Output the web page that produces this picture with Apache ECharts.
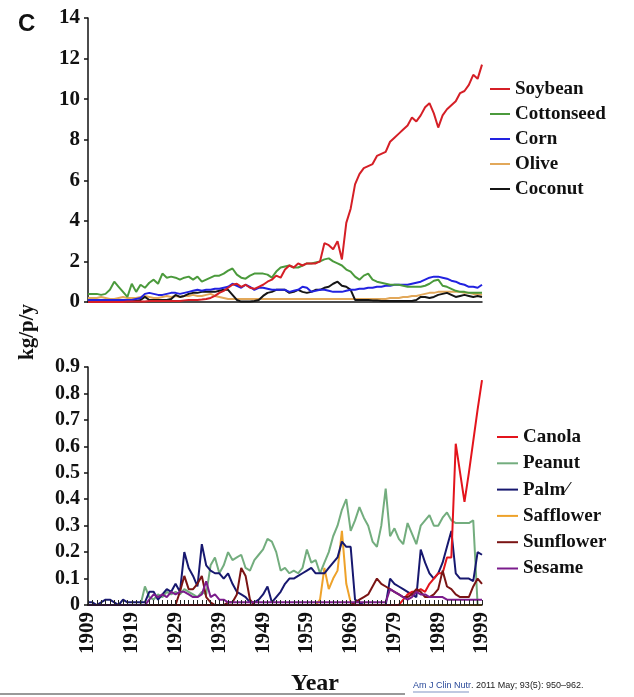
<!DOCTYPE html>
<html>
<head>
<meta charset="utf-8">
<script src="https://cdn.jsdelivr.net/npm/echarts@6/dist/echarts.min.js"></script>
<style>
  html, body { margin: 0; padding: 0; background: #fff; }
  #chart { width: 634px; height: 697px; }
</style>
</head>
<body>
<div id="chart"></div>
<script>
// years 1909..1999, one point per year
const years = [];
for (let y = 1909; y <= 1999; y++) years.push(String(y));
const yearLabels = ['1909', '1919', '1929', '1939', '1949', '1959', '1969', '1979', '1989', '1999'];

// top panel, kg/p/y
const soybean = [
  0, 0, 0, 0, 0, 0, 0, 0, 0, 0.02,
  0.02, 0.02, 0.03, 0.03, 0.05, 0.05, 0.05, 0.05, 0.05, 0.05,
  0.05, 0.05, 0.08, 0.1, 0.1, 0.1, 0.12, 0.15, 0.2, 0.3,
  0.45, 0.55, 0.7, 0.85, 0.9, 0.75, 0.85, 0.7, 0.65, 0.75,
  0.85, 1.0, 1.1, 1.3, 1.2, 1.6, 1.8, 1.7, 1.9, 1.8,
  1.9, 1.9, 1.9, 2.0, 2.9, 2.8, 2.6, 3.0, 2.1, 3.9,
  4.6, 5.8, 6.3, 6.6, 6.7, 6.8, 7.2, 7.3, 7.4, 7.9,
  8.1, 8.3, 8.5, 8.7, 9.1, 8.9, 9.2, 9.6, 9.8, 9.3,
  8.6, 9.2, 9.5, 9.7, 9.9, 10.3, 10.4, 10.7, 11.2, 11.0,
  11.7
];
const cottonseed = [
  0.4, 0.4, 0.4, 0.35, 0.4, 0.6, 1.0, 0.75, 0.5, 0.25,
  0.9, 0.5, 0.85, 0.7, 0.95, 1.1, 0.9, 1.4, 1.2, 1.25,
  1.2, 1.1, 1.2, 1.25, 1.1, 1.25, 1.0, 1.1, 1.2, 1.3,
  1.3, 1.4, 1.55, 1.65, 1.35, 1.2, 1.15, 1.3, 1.4, 1.4,
  1.4, 1.35, 1.2, 1.5, 1.7, 1.75, 1.8, 1.7, 1.7, 1.8,
  1.9, 1.9, 1.95, 2.0, 2.1, 2.15, 2.0, 1.9, 1.8, 1.6,
  1.5, 1.25, 1.1, 1.3, 1.4, 1.1, 1.0, 0.95, 0.9, 0.85,
  0.85, 0.85, 0.8, 0.75, 0.75, 0.75, 0.75, 0.8, 0.9, 1.05,
  1.1, 0.8, 0.75, 0.65, 0.55, 0.5, 0.5, 0.45, 0.45, 0.45,
  0.45
];
const corn = [
  0.1, 0.1, 0.1, 0.1, 0.1, 0.1, 0.1, 0.1, 0.1, 0.1,
  0.1, 0.15, 0.2, 0.4, 0.45, 0.4, 0.35, 0.35, 0.4, 0.45,
  0.45, 0.4, 0.45, 0.5, 0.55, 0.6, 0.55, 0.6, 0.6, 0.65,
  0.65, 0.7, 0.75, 0.9, 0.8, 0.7, 0.85, 0.75, 0.6, 0.7,
  0.7, 0.65, 0.6, 0.6, 0.6, 0.6, 0.5, 0.55, 0.6, 0.75,
  0.7, 0.5, 0.55, 0.6, 0.6, 0.55, 0.5, 0.5, 0.5, 0.55,
  0.6, 0.6, 0.65, 0.65, 0.7, 0.7, 0.75, 0.75, 0.8, 0.8,
  0.85, 0.85, 0.85, 0.85, 0.9, 0.95, 1.0, 1.1, 1.2, 1.25,
  1.25, 1.2, 1.15, 1.05, 1.0, 0.9, 0.85, 0.75, 0.75, 0.7,
  0.85
];
const olive = [
  0.2, 0.2, 0.2, 0.25, 0.2, 0.15, 0.15, 0.2, 0.25, 0.2,
  0.2, 0.2, 0.25, 0.3, 0.25, 0.2, 0.2, 0.25, 0.3, 0.25,
  0.3, 0.25, 0.3, 0.3, 0.35, 0.3, 0.3, 0.35, 0.4, 0.3,
  0.25, 0.2, 0.15, 0.15, 0.15, 0.15, 0.15, 0.15, 0.15, 0.15,
  0.15, 0.15, 0.15, 0.15, 0.15, 0.15, 0.15, 0.15, 0.15, 0.15,
  0.15, 0.15, 0.15, 0.15, 0.15, 0.15, 0.15, 0.15, 0.15, 0.15,
  0.15, 0.15, 0.15, 0.15, 0.15, 0.15, 0.15, 0.15, 0.15, 0.2,
  0.2, 0.2, 0.25, 0.25, 0.3, 0.3, 0.35, 0.4, 0.45, 0.45,
  0.5, 0.5, 0.5, 0.5, 0.5, 0.5, 0.45, 0.45, 0.4, 0.4,
  0.35
];
const coconut = [
  0.05, 0.05, 0.05, 0.05, 0.05, 0.05, 0.05, 0.05, 0.05, 0.05,
  0.05, 0.05, 0.1, 0.25, 0.1, 0.1, 0.1, 0.1, 0.1, 0.15,
  0.35, 0.25, 0.3, 0.4, 0.45, 0.45, 0.5, 0.5, 0.5, 0.5,
  0.55, 0.6, 0.6, 0.35, 0.1, 0.02, 0.02, 0.02, 0.05, 0.1,
  0.3, 0.45, 0.5, 0.6, 0.6, 0.6, 0.45, 0.5, 0.6, 0.5,
  0.45, 0.5, 0.6, 0.6, 0.7, 0.75, 0.9, 1.0, 0.8, 0.75,
  0.6, 0.1, 0.1, 0.1, 0.1, 0.08, 0.08, 0.05, 0.05, 0.05,
  0.05, 0.05, 0.05, 0.05, 0.05, 0.1, 0.25, 0.25, 0.2, 0.25,
  0.35, 0.4, 0.45, 0.35, 0.25, 0.3, 0.35, 0.3, 0.25, 0.3,
  0.25
];

// bottom panel, kg/p/y
const canola = [
  0, 0, 0, 0, 0, 0, 0, 0, 0, 0,
  0, 0, 0, 0, 0, 0, 0, 0, 0, 0,
  0, 0, 0, 0, 0, 0, 0, 0, 0, 0,
  0, 0, 0, 0, 0, 0, 0, 0, 0, 0,
  0, 0, 0, 0, 0, 0, 0, 0, 0, 0,
  0, 0, 0, 0, 0, 0, 0, 0, 0, 0,
  0, 0, 0, 0, 0, 0, 0, 0, 0, 0,
  0, 0, 0.02, 0.04, 0.05, 0.05, 0.06, 0.05, 0.08, 0.1,
  0.12, 0.12, 0.18, 0.18, 0.61, 0.5, 0.39, 0.5, 0.62, 0.74,
  0.85
];
const peanut = [
  0, 0, 0, 0, 0, 0, 0, 0, 0, 0,
  0, 0, 0, 0.07, 0.03, 0.02, 0.04, 0.03, 0.05, 0.04,
  0.05, 0.04, 0.06, 0.05, 0.04, 0.03, 0.05, 0.04, 0.15, 0.18,
  0.12, 0.15, 0.2, 0.17, 0.18, 0.19, 0.14, 0.13, 0.17, 0.19,
  0.21, 0.25, 0.24, 0.2, 0.13, 0.14, 0.12, 0.13, 0.12, 0.14,
  0.21, 0.16, 0.17, 0.12, 0.16, 0.2, 0.26, 0.3, 0.36, 0.4,
  0.28, 0.32, 0.37, 0.33, 0.3, 0.24, 0.22, 0.3, 0.44, 0.26,
  0.29, 0.25, 0.23, 0.31, 0.27, 0.23, 0.3, 0.32, 0.34, 0.3,
  0.3, 0.33, 0.35, 0.32, 0.31, 0.31, 0.31, 0.31, 0.32, 0,
  0
];
const palm = [
  0.01, 0.01, 0, 0.01, 0.02, 0.02, 0.01, 0, 0.02, 0.01,
  0.01, 0.01, 0.01, 0.01, 0.05, 0.05, 0.02, 0.04, 0.06, 0.05,
  0.08, 0.05, 0.2, 0.14, 0.11, 0.07, 0.23, 0.15, 0.13, 0.12,
  0.12, 0.1, 0.12, 0.08, 0.05, 0.04, 0.03, 0.01, 0.01, 0.02,
  0.04, 0.07, 0.01, 0.03, 0.05, 0.08, 0.1, 0.1, 0.11, 0.12,
  0.13, 0.14, 0.12, 0.12, 0.12, 0.14, 0.16, 0.18, 0.24, 0.22,
  0.22, 0.02, 0.01, 0, 0, 0, 0, 0, 0, 0.1,
  0.08, 0.07, 0.06, 0.05, 0.04, 0.03, 0.21, 0.16, 0.12, 0.1,
  0.12, 0.16, 0.22, 0.28, 0.12, 0.1, 0.1, 0.1, 0.09, 0.2,
  0.19
];
const safflower = [
  0, 0, 0, 0, 0, 0, 0, 0, 0, 0,
  0, 0, 0, 0, 0, 0, 0, 0, 0, 0,
  0, 0, 0, 0, 0, 0, 0, 0, 0, 0,
  0, 0, 0, 0, 0, 0, 0, 0, 0, 0,
  0, 0, 0, 0, 0, 0, 0, 0, 0, 0,
  0, 0, 0, 0.02, 0.14, 0.06, 0.1, 0.13, 0.28, 0.08,
  0.01, 0, 0, 0, 0, 0, 0, 0, 0, 0,
  0, 0, 0, 0, 0, 0, 0, 0, 0, 0,
  0, 0, 0, 0, 0, 0, 0, 0, 0, 0,
  0
];
const sunflower = [
  0, 0, 0, 0, 0, 0, 0, 0, 0, 0,
  0, 0, 0, 0, 0, 0, 0, 0, 0, 0,
  0, 0.05, 0.11, 0.06, 0.06, 0.08, 0.11, 0.03, 0.01, 0,
  0, 0, 0.01, 0.01, 0.04, 0.14, 0.11, 0.02, 0, 0,
  0, 0, 0, 0, 0, 0, 0, 0, 0, 0,
  0, 0, 0, 0, 0, 0, 0, 0, 0, 0,
  0, 0.01, 0.02, 0.03, 0.04, 0.07, 0.1, 0.08, 0.07, 0.06,
  0.05, 0.04, 0.03, 0.03, 0.04, 0.06, 0.05, 0.03, 0.03, 0.04,
  0.06, 0.13, 0.07, 0.06, 0.04, 0.03, 0.03, 0.03, 0.07, 0.1,
  0.08
];
const sesame = [
  0, 0, 0, 0, 0, 0, 0, 0, 0, 0,
  0, 0, 0, 0, 0.02, 0.04, 0.03, 0.04, 0.03, 0.05,
  0.04, 0.05, 0.05, 0.04, 0.03, 0.03, 0.04, 0.09, 0.03, 0.04,
  0.02, 0.02, 0.01, 0.01, 0.01, 0.01, 0.01, 0.01, 0.01, 0.01,
  0.01, 0.01, 0.01, 0.01, 0.01, 0.01, 0.01, 0.01, 0.01, 0.01,
  0.01, 0.01, 0.01, 0.01, 0.01, 0.01, 0.01, 0.01, 0.01, 0.01,
  0.01, 0.01, 0.01, 0.01, 0.01, 0.01, 0.01, 0.01, 0.01, 0.06,
  0.05, 0.04, 0.03, 0.02, 0.03, 0.05, 0.04, 0.04, 0.03, 0.03,
  0.03, 0.03, 0.02, 0.02, 0.02, 0.02, 0.02, 0.02, 0.02, 0.02,
  0.02
];

const serif = 'Liberation Serif';
const chart = echarts.init(document.getElementById('chart'));

function lineSeries(name, data, color, axisIdx) {
  return {
    name: name,
    type: 'line',
    data: data,
    xAxisIndex: axisIdx,
    yAxisIndex: axisIdx,
    symbol: 'none',
    lineStyle: { color: color, width: 2 },
    itemStyle: { color: color },
    animation: false
  };
}

const axisLine = { show: true, lineStyle: { color: '#111', width: 1.5 } };
const legendText = { fontFamily: serif, fontWeight: 'bold', fontSize: 19, color: '#111', lineHeight: 20 };

chart.setOption({
  backgroundColor: '#fff',
  animation: false,
  grid: [
    { left: 88, top: 18, width: 394, height: 284 },
    { left: 88, top: 367, width: 394, height: 238 }
  ],
  xAxis: [
    {
      type: 'category', gridIndex: 0, data: years, boundaryGap: false,
      axisLine: axisLine, axisTick: { show: false }, axisLabel: { show: false },
      splitLine: { show: false }
    },
    {
      type: 'category', gridIndex: 1, data: years, boundaryGap: false, z: 5,
      axisLine: axisLine,
      axisTick: { show: true, inside: true, interval: 0, length: 5, lineStyle: { color: '#222', width: 1 } },
      axisLabel: {
        interval: 0, rotate: 90, margin: 7,
        fontFamily: serif, fontWeight: 'bold', fontSize: 21, color: '#111',
        formatter: v => (yearLabels.indexOf(v) >= 0 ? v : '')
      },
      splitLine: { show: false }
    }
  ],
  yAxis: [
    {
      type: 'value', gridIndex: 0, min: 0, max: 14, interval: 2,
      axisLine: axisLine,
      axisTick: { show: true, length: 4, lineStyle: { color: '#111', width: 1.5 } },
      axisLabel: { fontFamily: serif, fontWeight: 'bold', fontSize: 21, color: '#111', margin: 8 },
      splitLine: { show: false }
    },
    {
      type: 'value', gridIndex: 1, min: 0, max: 0.9, interval: 0.1,
      axisLine: axisLine,
      axisTick: { show: true, length: 4, lineStyle: { color: '#111', width: 1.5 } },
      axisLabel: { fontFamily: serif, fontWeight: 'bold', fontSize: 20, color: '#111', margin: 8 },
      splitLine: { show: false }
    }
  ],
  legend: [
    {
      data: ['Soybean', 'Cottonseed', 'Corn', 'Olive', 'Coconut'],
      orient: 'vertical', left: 490, top: 79, padding: 0,
      icon: 'rect', itemWidth: 20, itemHeight: 2, itemGap: 5,
      selectedMode: false, textStyle: legendText
    },
    {
      data: ['Canola', 'Peanut', 'Palm\u2044', 'Safflower', 'Sunflower', 'Sesame'],
      orient: 'vertical', left: 497, top: 427, padding: 0,
      icon: 'rect', itemWidth: 21, itemHeight: 2, itemGap: 6.3,
      selectedMode: false, textStyle: legendText
    }
  ],
  graphic: [
    { type: 'text', left: 18, top: 12, style: { text: 'C', font: 'bold 24px "Liberation Sans"', fill: '#111' } },
    {
      type: 'text', x: 17, y: 332, rotation: Math.PI / 2,
      style: { text: 'kg/p/y', font: 'bold 21px "Liberation Serif"', fill: '#111', align: 'center', verticalAlign: 'top' }
    },
    { type: 'text', x: 315, y: 672, style: { text: 'Year', font: 'bold 24px "Liberation Serif"', fill: '#111', align: 'center' } },
    {
      type: 'text', x: 413, y: 681,
      style: {
        text: '{a|Am J Clin Nutr}. 2011 May; 93(5): 950\u2013962.',
        font: '9px "Liberation Sans"', fill: '#222',
        rich: { a: { fill: '#2a4a9a', font: '9px "Liberation Sans"' } }
      }
    },
    { type: 'line', shape: { x1: 413, y1: 692, x2: 469, y2: 692 }, style: { stroke: '#2a4a9a', lineWidth: 0.6 } },
    { type: 'line', shape: { x1: 0, y1: 694, x2: 405, y2: 694 }, style: { stroke: '#999', lineWidth: 2 } }
  ],
  series: [
    lineSeries('Olive', olive, '#e2a85a', 0),
    lineSeries('Coconut', coconut, '#151515', 0),
    lineSeries('Corn', corn, '#2222e0', 0),
    lineSeries('Cottonseed', cottonseed, '#4b9a3c', 0),
    lineSeries('Soybean', soybean, '#d51f26', 0),
    lineSeries('Peanut', peanut, '#73ad7e', 1),
    lineSeries('Safflower', safflower, '#eea22a', 1),
    lineSeries('Palm\u2044', palm, '#17186f', 1),
    lineSeries('Canola', canola, '#e3141c', 1),
    lineSeries('Sunflower', sunflower, '#7a1414', 1),
    lineSeries('Sesame', sesame, '#7b1c8c', 1)
  ]
});
</script>
</body>
</html>
